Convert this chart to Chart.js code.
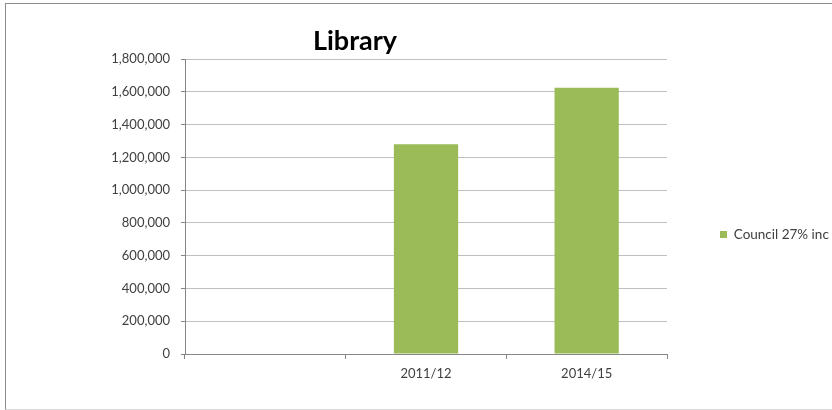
<!DOCTYPE html>
<html>
<head>
<meta charset="utf-8">
<title>Library</title>
<script src="https://cdn.jsdelivr.net/npm/chart.js@4/dist/chart.umd.min.js"></script>
<style>
  html, body { margin: 0; padding: 0; background: #fff; }
  #wrap { position: relative; width: 832px; height: 410px; overflow: hidden; }
  #frame {
    position: absolute; left: 5px; top: 3px; width: 840px; height: 407px;
    box-sizing: border-box;
    border-top: 1px solid #8c8c8c; border-left: 1px solid #8c8c8c;
    border-bottom: 1px solid #d9d9d9;
  }
  #chart { position: absolute; left: 0; top: 0; }
</style>
</head>
<body>
<div id="wrap">
  <div id="frame"></div>
  <canvas id="chart" width="832" height="410"></canvas>
</div>
<script>
// categories and values
const years = ["", "2011/12", "2014/15"];
const councilInc = [null, 1280000, 1625000];
const seriesName = "Council 27% inc";
const chartTitle = "Library";

const textColor = "#404040";
const axisColor = "#868686";
const gridColor = "#c0c0c0";
const barColor = "#9bbb59";
const fontFamily = "Lato, 'Open Sans', sans-serif";

// chart title drawn left of centre, above the plot
const titlePlugin = {
    id: "sideTitle",
    afterDraw(chart) {
        const ctx = chart.ctx;
        ctx.save();
        ctx.font = "bold 27px " + fontFamily;
        ctx.fillStyle = "#000";
        ctx.textAlign = "center";
        ctx.textBaseline = "alphabetic";
        ctx.fillText(chartTitle, 355, 50);
        ctx.restore();
    }
};

// fixed legend column width so the plot ends at the same place
const legendWidth = {
    id: "legendWidth",
    beforeInit(chart) {
        const origFit = chart.legend.fit;
        chart.legend.fit = function () {
            origFit.bind(chart.legend)();
            this.width = 165;
        };
    }
};

const data = {
    labels: years,
    datasets: [{
        label: seriesName,
        data: councilInc,
        backgroundColor: barColor,
        borderWidth: 0,
        barPercentage: 0.4,
        categoryPercentage: 1.0
    }]
};

const config = {
    type: "bar",
    data: data,
    plugins: [titlePlugin, legendWidth],
    options: {
        responsive: false,
        animation: false,
        layout: {
            padding: { top: 59, left: 0, right: 0, bottom: 0 }
        },
        plugins: {
            title: { display: false },
            tooltip: { enabled: false },
            legend: {
                position: "right",
                labels: {
                    boxWidth: 7,
                    boxHeight: 7,
                    padding: 53,
                    color: textColor,
                    font: { family: fontFamily, size: 13.5 }
                }
            }
        },
        scales: {
            x: {
                offset: true,
                grid: {
                    offset: true,
                    drawOnChartArea: false,
                    tickLength: 5,
                    tickColor: axisColor
                },
                border: { color: axisColor },
                ticks: {
                    color: textColor,
                    padding: 7,
                    font: { family: fontFamily, size: 13 }
                },
                afterFit(scale) { scale.height = 56; }
            },
            y: {
                min: 0,
                max: 1800000,
                ticks: {
                    stepSize: 200000,
                    color: textColor,
                    padding: 11,
                    font: { family: fontFamily, size: 13 },
                    callback: (v) => v.toLocaleString("en-US")
                },
                grid: {
                    color: gridColor,
                    tickLength: 4,
                    tickColor: axisColor
                },
                border: { color: axisColor },
                afterFit(scale) { scale.width = 185; }
            }
        }
    }
};

new Chart(document.getElementById("chart"), config);
</script>
</body>
</html>
